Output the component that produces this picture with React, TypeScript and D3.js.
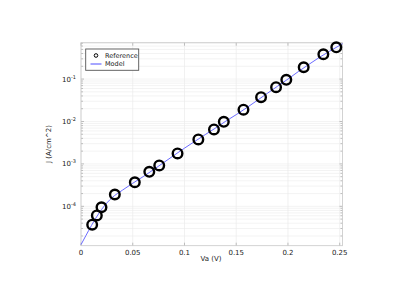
import React from "react";
import * as d3 from "d3";

const refV = [0.0108, 0.0153, 0.0198, 0.0327, 0.052, 0.066, 0.0756, 0.0933, 0.1134, 0.1285, 0.138, 0.157, 0.174, 0.1885, 0.1984, 0.2152, 0.2342, 0.2467];
const refJ = [3.7e-5, 6.1e-5, 9.5e-5, 1.9e-4, 3.7e-4, 6.5e-4, 9.2e-4, 1.77e-3, 3.77e-3, 6.5e-3, 9.8e-3, 1.9e-2, 3.75e-2, 6.45e-2, 9.6e-2, 0.19, 0.385, 0.56];

const modelV = [0, 0.005, 0.01, 0.015, 0.02, 0.03, 0.04, 0.05, 0.06, 0.07, 0.08, 0.09, 0.1, 0.11, 0.12, 0.13, 0.14, 0.15, 0.16, 0.17, 0.18, 0.19, 0.2, 0.21, 0.22, 0.23, 0.24, 0.2527];
const modelJ = [1.25e-5, 2.1e-5, 3.5e-5, 5.6e-5, 8.5e-5, 1.6e-4, 2.4e-4, 3.5e-4, 5.0e-4, 7.3e-4, 1.08e-3, 1.6e-3, 2.35e-3, 3.4e-3, 4.9e-3, 7.0e-3, 1.02e-2, 1.45e-2, 2.1e-2, 3.1e-2, 4.6e-2, 6.8e-2, 0.1, 0.15, 0.22, 0.32, 0.45, 0.68];

const xTicks = [0, 0.05, 0.1, 0.15, 0.2, 0.25];
const xTickLabels = ["0", "0.05", "0.1", "0.15", "0.2", "0.25"];
const yMajor = [1e-4, 1e-3, 1e-2, 1e-1];
const yExp = ["-4", "-3", "-2", "-1"];

export default function App() {
  const L = 81, R = 342.5, T = 42.7, B = 245.7;
  const x = d3.scaleLinear().domain([0, 0.2527]).range([L, R]);
  const y = d3.scaleLog().domain([1.18e-5, 0.72]).range([B, T]);
  const minor: number[] = [];
  for (let e = -5; e <= 0; e++) {
    for (let m = 1; m <= 9; m++) {
      const v = m * Math.pow(10, e);
      if (v >= 1.18e-5 && v <= 0.72) minor.push(v);
    }
  }
  const line = d3
    .line<number>()
    .x((_, i) => x(modelV[i]))
    .y((d) => y(d))
    .curve(d3.curveMonotoneX);
  const font = "DejaVu Sans, sans-serif";
  const txt = "#222";
  return (
    <svg width={420} height={290} style={{ position: "absolute", left: 0, top: 0 }}>
      <rect x={0} y={0} width={420} height={290} fill="#fff" />
      {minor.map((v, i) => (
        <line key={"gh" + i} x1={L} x2={R} y1={y(v)} y2={y(v)} stroke="#eeeeee" strokeWidth={0.7} />
      ))}
      {xTicks.map((v, i) => (
        <line key={"gv" + i} x1={x(v)} x2={x(v)} y1={T} y2={B} stroke="#ebebeb" strokeWidth={0.7} />
      ))}
      {minor.map((v, i) => {
        const major = yMajor.some((m) => Math.abs(m - v) / m < 1e-6);
        const len = major ? 3 : 2;
        return (
          <g key={"mt" + i}>
            <line x1={L} x2={L + len} y1={y(v)} y2={y(v)} stroke="#999" strokeWidth={0.6} />
            <line x1={R} x2={R - len} y1={y(v)} y2={y(v)} stroke="#999" strokeWidth={0.6} />
          </g>
        );
      })}
      {xTicks.map((v, i) => (
        <g key={"xt" + i}>
          <line x1={x(v)} x2={x(v)} y1={B} y2={B - 3} stroke="#999" strokeWidth={0.6} />
          <line x1={x(v)} x2={x(v)} y1={T} y2={T + 3} stroke="#999" strokeWidth={0.6} />
          <text x={x(v)} y={254.5} fontSize={7} fontFamily={font} fill={txt} textAnchor="middle">
            {xTickLabels[i]}
          </text>
        </g>
      ))}
      {yMajor.map((v, i) => (
        <text key={"yl" + i} x={76} y={y(v) + 2.5} fontSize={7} fontFamily={font} fill={txt} textAnchor="end">
          10
          <tspan dy={-3} fontSize={5}>
            {yExp[i]}
          </tspan>
        </text>
      ))}
      <rect x={L} y={T} width={R - L} height={B - T} fill="none" stroke="#c8c8c8" strokeWidth={0.8} />
      <path d={line(modelJ) || ""} fill="none" stroke="#6b6bff" strokeWidth={1} />
      {refV.map((v, i) => (
        <circle key={"p" + i} cx={x(v)} cy={y(refJ[i])} r={4.8} fill="none" stroke="#000" strokeWidth={2.4} />
      ))}
      <g>
        <rect x={85.7} y={49} width={53} height={21.3} fill="#fff" stroke="#555" strokeWidth={0.9} />
        <circle cx={96} cy={55.5} r={1.8} fill="none" stroke="#000" strokeWidth={1} />
        <text x={105} y={58} fontSize={6.5} fontFamily={font} fill={txt}>Reference</text>
        <line x1={90.5} x2={101.5} y1={64} y2={64} stroke="#6b6bff" strokeWidth={1.2} />
        <text x={105} y={66.3} fontSize={6.5} fontFamily={font} fill={txt}>Model</text>
      </g>
      <text x={211} y={261} fontSize={7} fontFamily={font} fill={txt} textAnchor="middle">Va (V)</text>
      <text transform={`translate(51,144) rotate(-90)`} fontSize={7} fontFamily={font} fill={txt} textAnchor="middle">J (A/cm^2)</text>
    </svg>
  );
}
